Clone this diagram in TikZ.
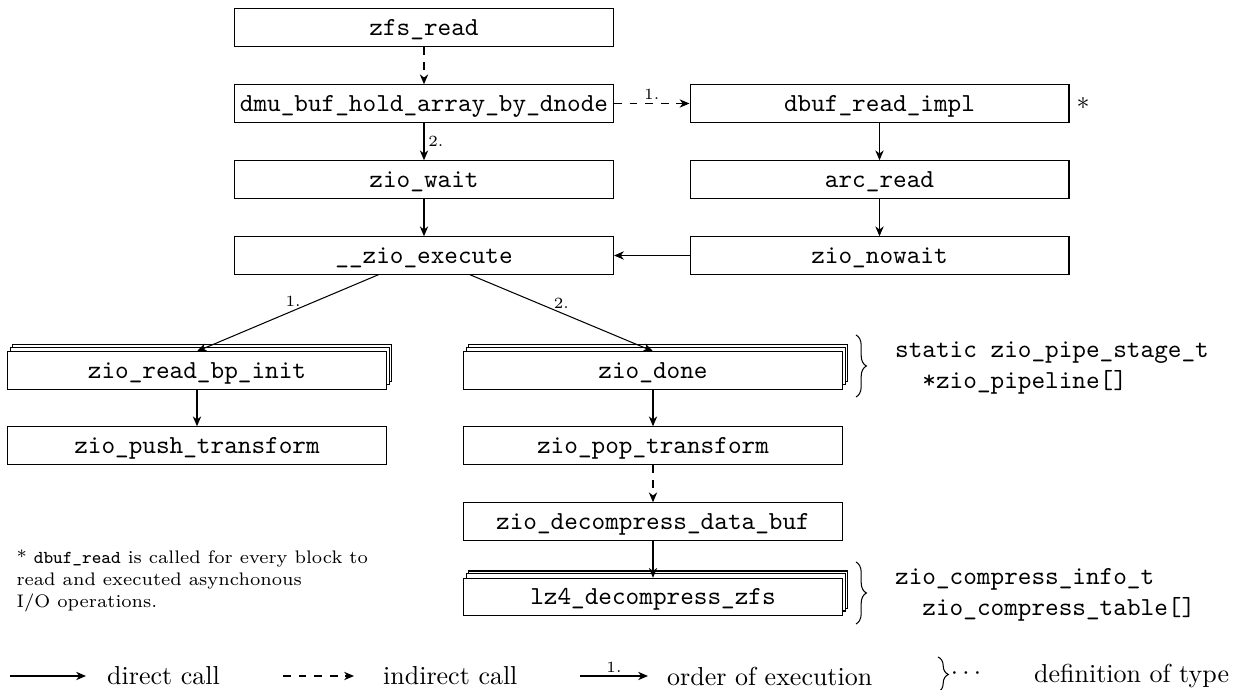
\documentclass[tikz,border=0pt]{standalone}
\usetikzlibrary{arrows.meta,shadows,decorations.pathreplacing}
\begin{document}
\begin{tikzpicture}[x=0.385pt,y=-0.385pt,
  >={Stealth[length=3.8pt,width=3.2pt,inset=1.2pt]},
  box/.style={draw,fill=white,minimum width=145.9pt,minimum height=14.4pt,inner sep=0pt,
    text height=7.3pt,text depth=1.2pt,font=\ttfamily},
  stack/.style={box,copy shadow={shadow xshift=2pt,shadow yshift=2.8pt},
    copy shadow={shadow xshift=1pt,shadow yshift=1.8pt}},
  call/.style={->},
  icall/.style={->,dashed},
  ord/.style={font=\fontsize{6}{7}\selectfont,inner sep=1.5pt},
  br/.style={decorate,decoration={brace,amplitude=4pt}},
  typ/.style={font=\ttfamily,align=left,anchor=west},
  leg/.style={anchor=west}
]
\useasboundingbox (0,0) rectangle (1239,690);
% boxes
\node[box] (zfs) at (424,27.5) {zfs\_read};
\node[box] (dmu) at (424,103.5) {dmu\_buf\_hold\_array\_by\_dnode};
\node[box] (dbuf) at (879.5,103.5) {dbuf\_read\_impl};
\node (star) at (1083,103.5) {$\ast$};
\node[box] (wait) at (424,179.5) {zio\_wait};
\node[box] (arc) at (879.5,179.5) {arc\_read};
\node[box] (exec) at (424,255.5) {\_\_zio\_execute};
\node[box] (nowait) at (879.5,255.5) {zio\_nowait};
\node[stack] (bpinit) at (197,370.5) {zio\_read\_bp\_init};
\node[stack] (done) at (653,370.5) {zio\_done};
\node[box] (push) at (197,445.5) {zio\_push\_transform};
\node[box] (pop) at (653,445.5) {zio\_pop\_transform};
\node[box] (decomp) at (653,521.5) {zio\_decompress\_data\_buf};
\node[stack] (lz4) at (653,597) {lz4\_decompress\_zfs};
% connectors
\draw[icall] (zfs) -- (dmu);
\draw[icall] (dmu) -- node[ord,above]{1.} (dbuf);
\draw[call] (dmu) -- node[ord,right]{2.} (wait);
\draw[call] (wait) -- (exec);
\draw[call] (dbuf) -- (arc);
\draw[call] (arc) -- (nowait);
\draw[call] (nowait) -- (exec);
\draw[call] (exec) -- node[ord,above,pos=0.47]{1.} (bpinit.north);
\draw[call] (exec) -- node[ord,above,pos=0.5]{2.} (done.north);
\draw[call] (bpinit) -- (push);
\draw[call] (done) -- (pop);
\draw[icall] (pop) -- (decomp);
\draw[call] (decomp) -- (lz4.north);
% type braces
\draw[br] (856,335) -- (856,397);
\node[typ] (t1) at (886,368) {static zio\_pipe\_stage\_t\\\hspace*{1.05em}*zio\_pipeline[]};
\draw[br] (856,562) -- (856,624);
\node[typ] (t2) at (886,595) {zio\_compress\_info\_t\\\hspace*{1.05em}zio\_compress\_table[]};
% footnote
\node[anchor=west,align=left,font=\fontsize{7}{8.6}\selectfont,inner sep=0pt] (fn) at (16,581)
  {* \texttt{dbuf\_read} is called for every block to\\read and executed asynchonous\\I/O operations.};
% legend
\coordinate (l1a) at (10,676); \coordinate (l1b) at (86,676);
\draw[call] (l1a) -- (l1b);
\node[leg] (l1t) at (98,676) {direct call};
\coordinate (l2a) at (283,676); \coordinate (l2b) at (354,676);
\draw[icall] (l2a) -- (l2b);
\node[leg] (l2t) at (374,676) {indirect call};
\coordinate (l3a) at (580,676); \coordinate (l3b) at (648,676);
\draw[call] (l3a) -- node[ord,above,inner sep=1pt]{1.} (l3b);
\node[leg] (l3t) at (658,676) {order of execution};
\draw[br] (938,657) -- (938,692);
\node (dots) at (966,674) {$\cdots$};
\node[leg] (l4t) at (1025,676) {definition of type};
\end{tikzpicture}
\end{document}
